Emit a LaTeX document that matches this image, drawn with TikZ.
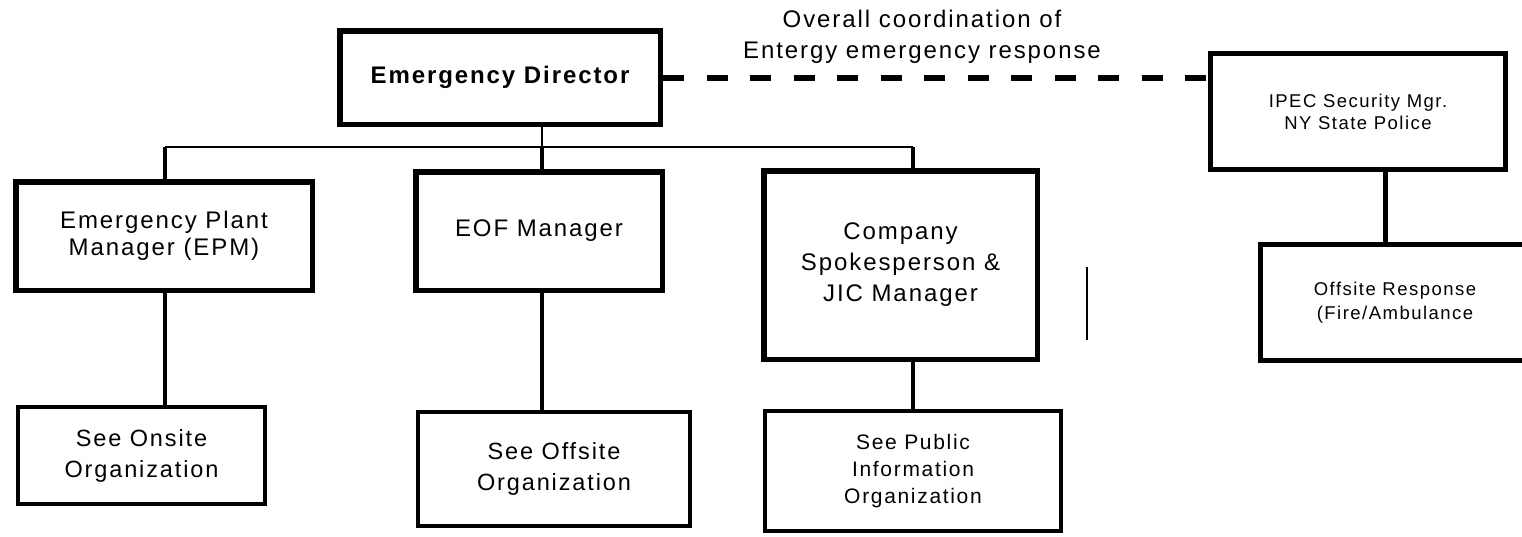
\documentclass[tikz,border=0pt]{standalone}
\usepackage{fontspec}
\setmainfont{Liberation Sans}[LetterSpace=8]
\tikzset{
  box/.style={draw, line width=5.5pt, inner sep=0pt, align=center, font=\fontsize{24}{27}\selectfont},
  lowbox/.style={box, line width=4pt},
  smallbox/.style={box, line width=5pt, font=\fontsize{18.5}{22}\selectfont},
  busline/.style={line width=2.5pt},
  conn/.style={line width=4pt},
  thickconn/.style={line width=5pt},
  dashline/.style={line width=6pt, dash pattern=on 21pt off 22.5pt},
  strayline/.style={line width=2pt},
}
\begin{document}
\begin{tikzpicture}[x=1pt,y=-1pt]
\useasboundingbox (0,0) rectangle (1522,536);
% boxes
\node[box, font=\bfseries\fontsize{24}{27}\selectfont, minimum width=320.5pt, minimum height=93.5pt] (ed) at (500,77.5) {Emergency Director};
\node[box, minimum width=296.5pt, minimum height=108.5pt] (epm) at (164,236) {Emergency Plant\\Manager (EPM)};
\node[box, minimum width=246.5pt, minimum height=118.5pt] (eof) at (539,231) {EOF Manager};
\node[box, font=\fontsize{24}{31}\selectfont, minimum width=273.5pt, minimum height=188.5pt] (comp) at (900.5,265) {Company\\Spokesperson \&\\JIC Manager};
\node[lowbox, font=\fontsize{23.5}{31}\selectfont, minimum width=247pt, minimum height=97pt] (onsite) at (141.5,455.5) {See Onsite\\Organization};
\node[lowbox, font=\fontsize{23.5}{31}\selectfont, minimum width=272pt, minimum height=114pt] (offsite) at (554,469) {See Offsite\\Organization};
\node[lowbox, font=\fontsize{21}{27}\selectfont, minimum width=296pt, minimum height=120pt] (public) at (913,471) {See Public\\Information\\Organization};
\node[smallbox, minimum width=295pt, minimum height=116pt] (ipec) at (1358,111.5) {IPEC Security Mgr.\\NY State Police};
\node[smallbox, font=\fontsize{18.5}{24}\selectfont, minimum width=269pt, minimum height=116pt] (resp) at (1395,302.5) {Offsite Response\\(Fire/Ambulance};
\node[align=center, inner sep=0pt, font=\fontsize{24}{31}\selectfont] (lbl) at (922,37) {Overall coordination of\\Entergy emergency response};
% helper coordinates
\coordinate (xepm) at (165,0);
\coordinate (xeof) at (542,0);
\coordinate (xcomp) at (913,0);
\coordinate (xsec) at (1385,0);
\coordinate (bus) at (0,147);
\coordinate (s1) at (1087,267);
\coordinate (s2) at (1087,340);
% connectors
\draw[busline] (xeof |- ed.south) -- (xeof |- bus);
\draw[busline] (xepm |- bus) -- (xcomp |- bus);
\draw[conn] (xepm |- bus) -- (xepm |- epm.north);
\draw[conn] (xeof |- bus) -- (xeof |- eof.north);
\draw[conn] (xcomp |- bus) -- (xcomp |- comp.north);
\draw[conn] (xepm |- epm.south) -- (xepm |- onsite.north);
\draw[conn] (xeof |- eof.south) -- (xeof |- offsite.north);
\draw[conn] (xcomp |- comp.south) -- (xcomp |- public.north);
\draw[thickconn] (xsec |- ipec.south) -- (xsec |- resp.north);
\draw[dashline] (ed.east) -- (ed.east -| ipec.west);
\draw[strayline] (s1) -- (s2);
\end{tikzpicture}
\end{document}
